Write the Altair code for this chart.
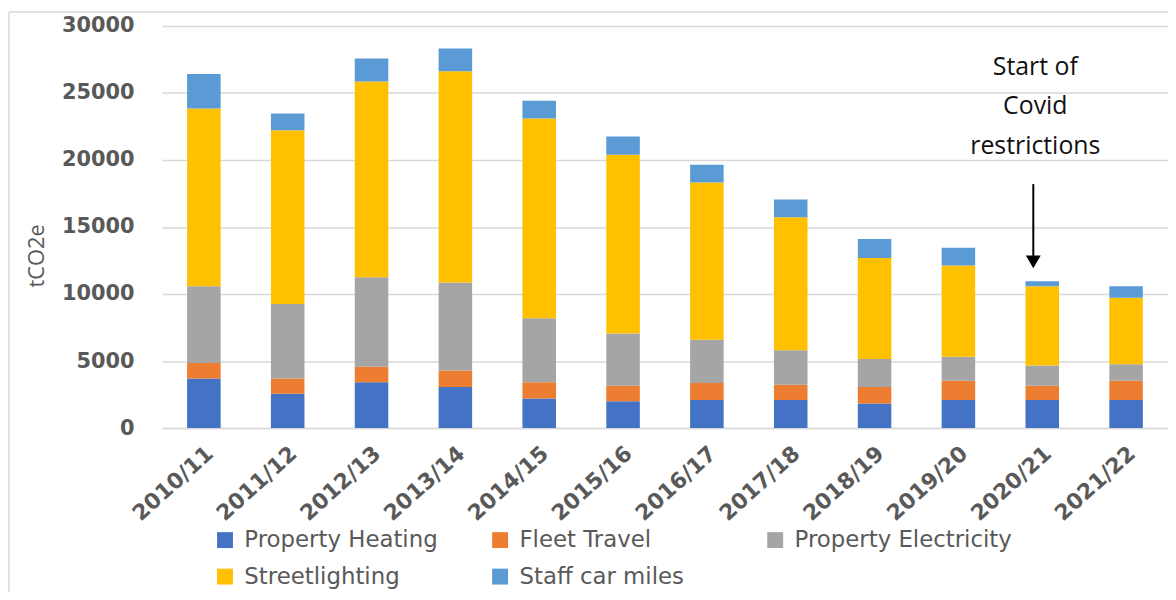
import altair as alt
import pandas as pd

years = ["2010/11", "2011/12", "2012/13", "2013/14", "2014/15", "2015/16",
         "2016/17", "2017/18", "2018/19", "2019/20", "2020/21", "2021/22"]
heating = [3700, 2570, 3430, 3060, 2200, 2000, 2100, 2100, 1830, 2100, 2100, 2100]
fleet = [1165, 1130, 1140, 1240, 1230, 1160, 1260, 1130, 1230, 1430, 1060, 1430]
electricity = [5725, 5560, 6690, 6560, 4770, 3900, 3230, 2570, 2100, 1800, 1510, 1240]
streetlighting = [13240, 12960, 14590, 15760, 14890, 13330, 11730, 9930, 7530, 6790, 5920, 4960]
staff_miles = [2590, 1240, 1710, 1700, 1330, 1360, 1330, 1330, 1410, 1340, 370, 860]

categories = ["Property Heating", "Fleet Travel", "Property Electricity",
              "Streetlighting", "Staff car miles"]
colors = ["#4472C4", "#ED7D31", "#A5A5A5", "#FFC000", "#5B9BD5"]
y_ticks = [0, 5000, 10000, 15000, 20000, 25000, 30000]

annotation_year = ["2020/21"]
annotation_text = ["Start of\nCovid\nrestrictions"]
annotation_text_y = [26960]
arrow_top = [18200]
arrow_bottom = [12400]

series = [heating, fleet, electricity, streetlighting, staff_miles]
rows = []
for k, (name, vals) in enumerate(zip(categories, series)):
    for yr, v in zip(years, vals):
        rows.append({"year": yr, "series": name, "value": v, "order": k})
df = pd.DataFrame(rows)

x_enc = alt.X(
    "year:N", sort=years,
    scale=alt.Scale(paddingInner=0.6, paddingOuter=0.3),
    axis=alt.Axis(title=None, labelAngle=-42, labelFont="DejaVu Sans",
                  labelFontWeight="bold", labelFontSize=22, labelColor="#595959",
                  labelAlign="right", labelBaseline="middle", labelPadding=22,
                  labelOffset=6,
                  ticks=False, domainColor="#d9d9d9", domainWidth=1.5, grid=False),
)

bars = alt.Chart(df).mark_bar().encode(
    x=x_enc,
    y=alt.Y("value:Q", stack="zero",
            scale=alt.Scale(domain=[0, 30000], nice=False),
            axis=alt.Axis(values=y_ticks, format="d", title="tCO2e", titleFont="Open Sans",
                          titleFontSize=22, titleFontWeight="normal",
                          titleColor="#595959", titleX=-126, titleY=231,
                          titleAngle=-90, titleAlign="center", titleBaseline="middle",
                          labelFont="DejaVu Sans", labelFontSize=21,
                          labelFontWeight="bold", labelColor="#595959",
                          labelPadding=28, domain=False, ticks=False,
                          gridColor="#d9d9d9", gridWidth=1.5)),
    color=alt.Color("series:N",
                    scale=alt.Scale(domain=categories, range=colors),
                    legend=alt.Legend(title=None, orient="none", legendX=52, legendY=506,
                                      columns=3, direction="horizontal",
                                      symbolType="square", symbolSize=256,
                                      symbolStrokeWidth=0, labelFont="DejaVu Sans",
                                      labelFontSize=23, labelColor="#595959",
                                      labelLimit=400, labelOffset=8,
                                      columnPadding=27, rowPadding=13,
                                      gridAlign="all")),
    order=alt.Order("order:Q"),
)

ann = pd.DataFrame({"year": annotation_year, "text": annotation_text,
                    "ty": annotation_text_y, "top": arrow_top, "bottom": arrow_bottom})

arrow_line = alt.Chart(ann).mark_rule(color="black", strokeWidth=2, xOffset=-9).encode(
    x=alt.X("year:N", sort=years), y="top:Q", y2="bottom:Q")
arrow_head = alt.Chart(ann).mark_point(shape="triangle-down", filled=True, size=225,
                                       color="black", opacity=1, xOffset=-9).encode(
    x=alt.X("year:N", sort=years), y="bottom:Q")
label = alt.Chart(ann).mark_text(font="Open Sans", fontSize=25, lineHeight=40,
                                 lineBreak="\n", align="center", baseline="middle",
                                 color="#111111", xOffset=-7).encode(
    x=alt.X("year:N", sort=years), y="ty:Q", text="text:N")

frame_left = alt.Chart(ann).mark_rule(color="#d9d9d9", strokeWidth=1.5).encode(
    x=alt.value(-154), y=alt.value(-14), y2=alt.value(700))
frame_top = alt.Chart(ann).mark_rule(color="#d9d9d9", strokeWidth=1.5).encode(
    x=alt.value(-154), x2=alt.value(1100), y=alt.value(-14))

chart = alt.layer(frame_left, frame_top, bars, arrow_line, arrow_head, label).properties(
    width=1013, height=405,
    padding={"left": 155, "top": 16, "right": 0, "bottom": 163},
    autosize=alt.AutoSizeParams(type="none"),
).configure_view(stroke=None)

chart.save("out.html", embed_options={"renderer": "svg", "actions": False})
